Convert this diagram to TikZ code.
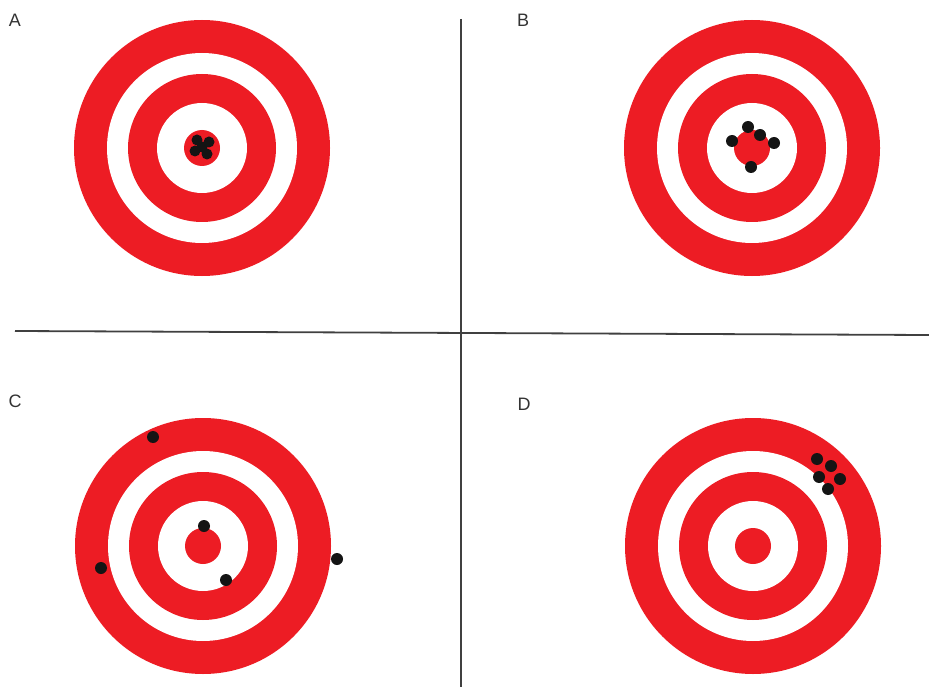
\documentclass[tikz,border=0pt]{standalone}
\usepackage{fontspec}
\setmainfont{Liberation Sans}
\definecolor{tred}{RGB}{237,28,36}
\definecolor{shot}{RGB}{20,20,20}
\begin{document}
\begin{tikzpicture}[x=1pt,y=-1pt,
  redring/.style={fill=tred},
  whitering/.style={fill=white},
  hole/.style={fill=shot},
  axis/.style={draw=black!75,line width=1.8pt},
  lbl/.style={font=\fontsize{18}{18}\selectfont,text=black!80,inner sep=0pt}]
\useasboundingbox (0,0) rectangle (929,687);
\fill[white] (0,0) rectangle (929,687);
\newcommand{\target}[2]{%
  \fill[redring] (#1,#2) circle (128);
  \fill[whitering] (#1,#2) circle (95);
  \fill[redring] (#1,#2) circle (74);
  \fill[whitering] (#1,#2) circle (45);
  \fill[redring] (#1,#2) circle (18);}
\target{202}{148}
\target{752}{148}
\target{203}{546}
\target{753}{546}
% A shots
\foreach \p in {(197,140),(209,142),(195,151),(207,154),(202,147)}
  \fill[hole] \p circle (5.5);
% B shots
\foreach \p in {(732,141),(748,127),(760,135),(774,143),(751,167)}
  \fill[hole] \p circle (6);
% C shots
\foreach \p in {(153,437),(101,568),(204,526),(226,580),(337,559)}
  \fill[hole] \p circle (6);
% D shots
\foreach \p in {(817,459),(831,466),(819,477),(840,479),(828,489)}
  \fill[hole] \p circle (6);
% axes
\coordinate (hl) at (15,331);
\coordinate (hr) at (929,335);
\coordinate (vt) at (461,19);
\coordinate (vb) at (461,687);
\draw[axis] (hl) -- (hr);
\draw[axis] (vt) -- (vb);
% labels
\node[lbl] (la) at (15,20) {A};
\node[lbl] (lb) at (523,20) {B};
\node[lbl] (lc) at (15,401) {C};
\node[lbl] (ld) at (524,404) {D};
\end{tikzpicture}
\end{document}
